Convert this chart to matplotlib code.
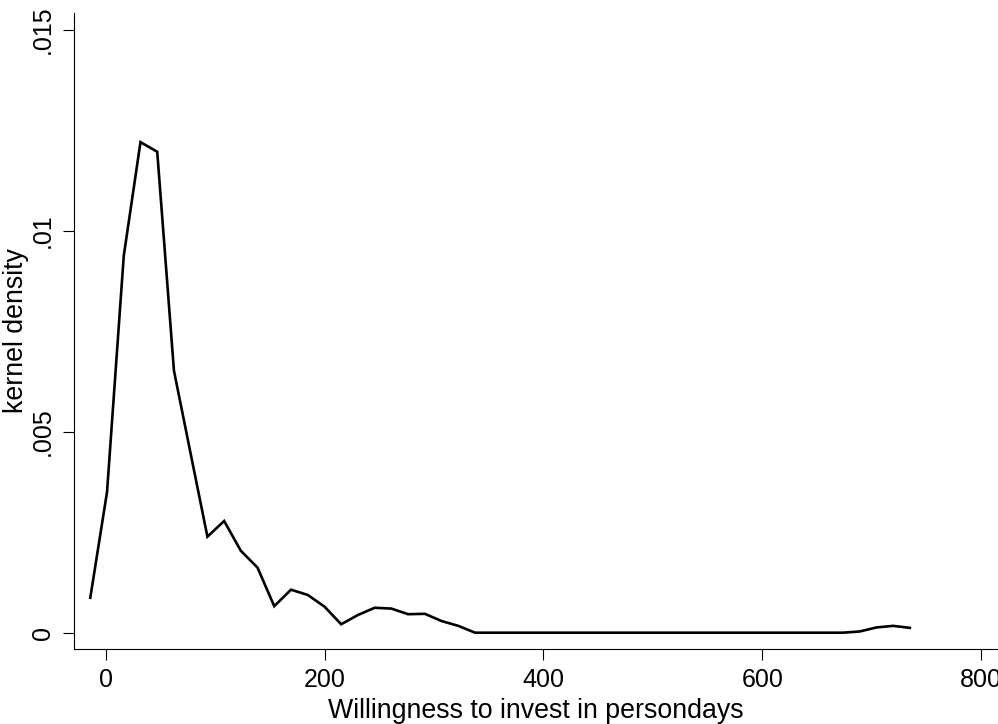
import numpy as np
import matplotlib
matplotlib.use("Agg")
import matplotlib.pyplot as plt

plt.rcParams['font.family'] = ['Liberation Sans', 'DejaVu Sans']

# kernel density estimate, 50 evaluation points
persondays = [-14.4, 0.9, 16.2, 31.5, 46.8, 62.1, 77.4, 92.7, 108.0, 123.2,
              138.5, 153.8, 169.1, 184.4, 199.7, 215.0, 230.3, 245.6, 260.9, 276.2,
              291.5, 306.8, 322.1, 337.4, 352.7, 367.9, 383.2, 398.5, 413.8, 429.1,
              444.4, 459.7, 475.0, 490.3, 505.6, 520.9, 536.2, 551.5, 566.8, 582.1,
              597.4, 612.6, 627.9, 643.2, 658.5, 673.8, 689.1, 704.4, 719.7, 735.0]
density = [0.00087, 0.00350, 0.00938, 0.01221, 0.01197, 0.00652, 0.00445, 0.00239, 0.00278, 0.00204,
           0.00162, 0.00066, 0.00107, 0.00094, 0.00065, 0.00021, 0.00044, 0.00062, 0.00060, 0.00046,
           0.00047, 0.00029, 0.00017, 0.0, 0.0, 0.0, 0.0, 0.0, 0.0, 0.0,
           0.0, 0.0, 0.0, 0.0, 0.0, 0.0, 0.0, 0.0, 0.0, 0.0,
           0.0, 0.0, 0.0, 0.0, 0.0, 0.0, 0.00003, 0.00013, 0.00017, 0.00012]

x_ticks = [0, 200, 400, 600, 800]
x_labels = ["0", "200", "400", "600", "800"]
y_ticks = [0, 0.005, 0.01, 0.015]
y_labels = ["0", ".005", ".01", ".015"]

W, H = 998, 724
fig = plt.figure(figsize=(W / 100, H / 100), dpi=100)
ax = fig.add_axes([74 / W, 1 - 649 / H, (998 - 74) / W, (649 - 13) / H])

ax.plot(persondays, density, color='black', linewidth=1.9, solid_joinstyle='miter')

ax.set_xlim(-29.3, 815.6)
ax.set_ylim(-0.000406, 0.015424)

ax.spines['top'].set_visible(False)
ax.spines['right'].set_visible(False)
for s in ['left', 'bottom']:
    ax.spines[s].set_linewidth(0.8)

ax.set_xticks(x_ticks)
ax.set_xticklabels(x_labels)
ax.set_yticks(y_ticks)
ax.set_yticklabels(y_labels, rotation=90, va='center')
ax.tick_params(direction='out', length=8, width=0.8, labelsize=18, pad=6)

ax.set_xlabel("Willingness to invest in persondays", fontsize=19.3, labelpad=4)
ax.set_ylabel("kernel density", fontsize=19.3, labelpad=1)

#------------------- save the plot -------------------
fig.savefig("out.png", dpi=100)
